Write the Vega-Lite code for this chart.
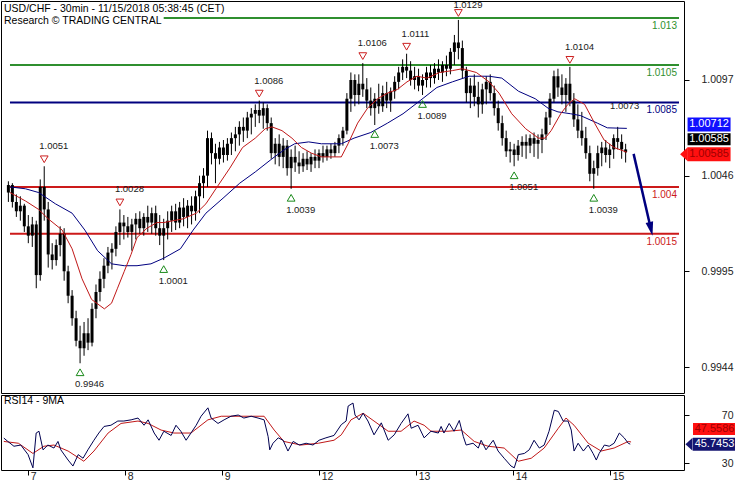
{
"$schema":"https://vega.github.io/schema/vega-lite/v6.json",
"padding":0,
"background":"white",
"spacing":0,
"config":{"view":{"stroke":"black","strokeWidth":1},"axis":{"domain":false,"grid":false,"labelFont":"Liberation Sans","tickColor":"black","labelColor":"#222","title":null},"text":{"font":"Liberation Sans"},"title":{"font":"Liberation Sans"}},
"datasets":{
"bars":[
{"h":-6,"o":1.0037,"hi":1.0043,"lo":1.0032,"c":1.0041},
{"h":-5,"o":1.0041,"hi":1.0042,"lo":1.0029,"c":1.0032},
{"h":-4,"o":1.0032,"hi":1.0036,"lo":1.0024,"c":1.0027},
{"h":-3,"o":1.0027,"hi":1.0035,"lo":1.0022,"c":1.0030},
{"h":-2,"o":1.0030,"hi":1.0031,"lo":1.0016,"c":1.0019},
{"h":-1,"o":1.0019,"hi":1.0025,"lo":1.0010,"c":1.0014},
{"h":0,"o":1.0014,"hi":1.0024,"lo":1.0008,"c":1.0020},
{"h":1,"o":1.0020,"hi":1.0022,"lo":0.9986,"c":0.9993},
{"h":2,"o":0.9993,"hi":1.0044,"lo":0.9990,"c":1.0040},
{"h":3,"o":1.0040,"hi":1.0051,"lo":1.0022,"c":1.0028},
{"h":4,"o":1.0028,"hi":1.0032,"lo":0.9997,"c":1.0004},
{"h":5,"o":1.0004,"hi":1.0010,"lo":0.9996,"c":1.0001},
{"h":6,"o":1.0001,"hi":1.0012,"lo":0.9998,"c":1.0009},
{"h":7,"o":1.0009,"hi":1.0019,"lo":1.0003,"c":1.0015},
{"h":8,"o":1.0015,"hi":1.0018,"lo":0.9990,"c":0.9995},
{"h":9,"o":0.9995,"hi":0.9998,"lo":0.9978,"c":0.9982},
{"h":10,"o":0.9982,"hi":0.9985,"lo":0.9966,"c":0.9970},
{"h":11,"o":0.9970,"hi":0.9974,"lo":0.9955,"c":0.9958},
{"h":12,"o":0.9958,"hi":0.9966,"lo":0.9946,"c":0.9954},
{"h":13,"o":0.9954,"hi":0.9968,"lo":0.9950,"c":0.9962},
{"h":14,"o":0.9962,"hi":0.9970,"lo":0.9953,"c":0.9957},
{"h":15,"o":0.9957,"hi":0.9978,"lo":0.9955,"c":0.9975},
{"h":16,"o":0.9975,"hi":0.9988,"lo":0.9970,"c":0.9984},
{"h":17,"o":0.9984,"hi":0.9995,"lo":0.9979,"c":0.9991},
{"h":18,"o":0.9991,"hi":1.0002,"lo":0.9986,"c":0.9998},
{"h":19,"o":0.9998,"hi":1.0008,"lo":0.9994,"c":1.0005},
{"h":20,"o":1.0005,"hi":1.0010,"lo":0.9996,"c":1.0007},
{"h":21,"o":1.0007,"hi":1.0019,"lo":1.0003,"c":1.0016},
{"h":22,"o":1.0016,"hi":1.0028,"lo":1.0009,"c":1.0021},
{"h":23,"o":1.0021,"hi":1.0025,"lo":1.0012,"c":1.0019},
{"h":24,"o":1.0019,"hi":1.0024,"lo":1.0013,"c":1.0016},
{"h":25,"o":1.0016,"hi":1.0023,"lo":1.0006,"c":1.0020},
{"h":26,"o":1.0020,"hi":1.0026,"lo":1.0012,"c":1.0023},
{"h":27,"o":1.0023,"hi":1.0027,"lo":1.0015,"c":1.0018},
{"h":28,"o":1.0018,"hi":1.0026,"lo":1.0014,"c":1.0024},
{"h":29,"o":1.0024,"hi":1.0030,"lo":1.0016,"c":1.0021},
{"h":30,"o":1.0021,"hi":1.0029,"lo":1.0015,"c":1.0026},
{"h":31,"o":1.0026,"hi":1.0030,"lo":1.0014,"c":1.0018},
{"h":32,"o":1.0018,"hi":1.0025,"lo":1.0009,"c":1.0014},
{"h":33,"o":1.0014,"hi":1.0023,"lo":1.0001,"c":1.0018},
{"h":34,"o":1.0018,"hi":1.0027,"lo":1.0012,"c":1.0022},
{"h":35,"o":1.0022,"hi":1.0030,"lo":1.0016,"c":1.0027},
{"h":36,"o":1.0027,"hi":1.0031,"lo":1.0017,"c":1.0021},
{"h":37,"o":1.0021,"hi":1.0032,"lo":1.0018,"c":1.0029},
{"h":38,"o":1.0029,"hi":1.0034,"lo":1.0019,"c":1.0024},
{"h":39,"o":1.0024,"hi":1.0033,"lo":1.0018,"c":1.0030},
{"h":40,"o":1.0030,"hi":1.0035,"lo":1.0020,"c":1.0027},
{"h":41,"o":1.0027,"hi":1.0038,"lo":1.0022,"c":1.0035},
{"h":42,"o":1.0035,"hi":1.0046,"lo":1.0026,"c":1.0042},
{"h":43,"o":1.0042,"hi":1.0050,"lo":1.0034,"c":1.0046},
{"h":44,"o":1.0046,"hi":1.0070,"lo":1.0040,"c":1.0066},
{"h":45,"o":1.0066,"hi":1.0069,"lo":1.0052,"c":1.0058},
{"h":46,"o":1.0058,"hi":1.0063,"lo":1.0042,"c":1.0055},
{"h":47,"o":1.0055,"hi":1.0064,"lo":1.0052,"c":1.0061},
{"h":48,"o":1.0061,"hi":1.0065,"lo":1.0053,"c":1.0057},
{"h":49,"o":1.0057,"hi":1.0066,"lo":1.0054,"c":1.0063},
{"h":50,"o":1.0063,"hi":1.0069,"lo":1.0057,"c":1.0066},
{"h":51,"o":1.0066,"hi":1.0072,"lo":1.0059,"c":1.0068},
{"h":52,"o":1.0068,"hi":1.0075,"lo":1.0062,"c":1.0072},
{"h":53,"o":1.0072,"hi":1.0077,"lo":1.0064,"c":1.0070},
{"h":54,"o":1.0070,"hi":1.0080,"lo":1.0066,"c":1.0077},
{"h":55,"o":1.0077,"hi":1.0082,"lo":1.0068,"c":1.0079},
{"h":56,"o":1.0079,"hi":1.0084,"lo":1.0072,"c":1.0081},
{"h":57,"o":1.0081,"hi":1.0086,"lo":1.0074,"c":1.0078},
{"h":58,"o":1.0078,"hi":1.0085,"lo":1.0071,"c":1.0082},
{"h":59,"o":1.0082,"hi":1.0084,"lo":1.0070,"c":1.0074},
{"h":60,"o":1.0074,"hi":1.0077,"lo":1.0055,"c":1.0058},
{"h":61,"o":1.0058,"hi":1.0066,"lo":1.0052,"c":1.0063},
{"h":62,"o":1.0063,"hi":1.0068,"lo":1.0051,"c":1.0056},
{"h":63,"o":1.0056,"hi":1.0066,"lo":1.0050,"c":1.0062},
{"h":64,"o":1.0062,"hi":1.0065,"lo":1.0046,"c":1.0050},
{"h":65,"o":1.0050,"hi":1.0060,"lo":1.0039,"c":1.0056},
{"h":66,"o":1.0056,"hi":1.0062,"lo":1.0048,"c":1.0053},
{"h":67,"o":1.0053,"hi":1.0059,"lo":1.0047,"c":1.0051},
{"h":68,"o":1.0051,"hi":1.0058,"lo":1.0048,"c":1.0055},
{"h":69,"o":1.0055,"hi":1.0059,"lo":1.0049,"c":1.0052},
{"h":70,"o":1.0052,"hi":1.0058,"lo":1.0048,"c":1.0056},
{"h":71,"o":1.0056,"hi":1.0060,"lo":1.0050,"c":1.0054},
{"h":72,"o":1.0054,"hi":1.0060,"lo":1.0050,"c":1.0058},
{"h":73,"o":1.0058,"hi":1.0062,"lo":1.0053,"c":1.0056},
{"h":74,"o":1.0056,"hi":1.0062,"lo":1.0054,"c":1.0060},
{"h":75,"o":1.0060,"hi":1.0063,"lo":1.0055,"c":1.0058},
{"h":76,"o":1.0058,"hi":1.0064,"lo":1.0056,"c":1.0062},
{"h":77,"o":1.0062,"hi":1.0068,"lo":1.0058,"c":1.0066},
{"h":78,"o":1.0066,"hi":1.0072,"lo":1.0062,"c":1.0070},
{"h":79,"o":1.0070,"hi":1.0090,"lo":1.0068,"c":1.0087},
{"h":80,"o":1.0087,"hi":1.0101,"lo":1.0080,"c":1.0097},
{"h":81,"o":1.0097,"hi":1.0100,"lo":1.0083,"c":1.0089},
{"h":82,"o":1.0089,"hi":1.0100,"lo":1.0084,"c":1.0095},
{"h":83,"o":1.0095,"hi":1.0106,"lo":1.0088,"c":1.0092},
{"h":84,"o":1.0092,"hi":1.0098,"lo":1.0082,"c":1.0086},
{"h":85,"o":1.0086,"hi":1.0093,"lo":1.0078,"c":1.0082},
{"h":86,"o":1.0082,"hi":1.0090,"lo":1.0073,"c":1.0087},
{"h":87,"o":1.0087,"hi":1.0095,"lo":1.0079,"c":1.0083},
{"h":88,"o":1.0083,"hi":1.0094,"lo":1.0080,"c":1.0090},
{"h":89,"o":1.0090,"hi":1.0096,"lo":1.0082,"c":1.0086},
{"h":90,"o":1.0086,"hi":1.0093,"lo":1.0080,"c":1.0091},
{"h":91,"o":1.0091,"hi":1.0099,"lo":1.0087,"c":1.0096},
{"h":92,"o":1.0096,"hi":1.0104,"lo":1.0092,"c":1.0101},
{"h":93,"o":1.0101,"hi":1.0108,"lo":1.0097,"c":1.0104},
{"h":94,"o":1.0104,"hi":1.0111,"lo":1.0098,"c":1.0102},
{"h":95,"o":1.0102,"hi":1.0107,"lo":1.0094,"c":1.0097},
{"h":96,"o":1.0097,"hi":1.0104,"lo":1.0092,"c":1.0099},
{"h":97,"o":1.0099,"hi":1.0103,"lo":1.0091,"c":1.0094},
{"h":98,"o":1.0094,"hi":1.0100,"lo":1.0089,"c":1.0097},
{"h":99,"o":1.0097,"hi":1.0104,"lo":1.0093,"c":1.0101},
{"h":100,"o":1.0101,"hi":1.0105,"lo":1.0093,"c":1.0098},
{"h":101,"o":1.0098,"hi":1.0106,"lo":1.0095,"c":1.0103},
{"h":102,"o":1.0103,"hi":1.0108,"lo":1.0097,"c":1.0101},
{"h":103,"o":1.0101,"hi":1.0107,"lo":1.0096,"c":1.0105},
{"h":104,"o":1.0105,"hi":1.0110,"lo":1.0099,"c":1.0103},
{"h":105,"o":1.0103,"hi":1.0114,"lo":1.0100,"c":1.0112},
{"h":106,"o":1.0112,"hi":1.0121,"lo":1.0105,"c":1.0117},
{"h":107,"o":1.0117,"hi":1.0129,"lo":1.0108,"c":1.0114},
{"h":108,"o":1.0114,"hi":1.0118,"lo":1.0098,"c":1.0102},
{"h":109,"o":1.0102,"hi":1.0104,"lo":1.0085,"c":1.0090},
{"h":110,"o":1.0090,"hi":1.0098,"lo":1.0082,"c":1.0094},
{"h":111,"o":1.0094,"hi":1.0100,"lo":1.0083,"c":1.0088},
{"h":112,"o":1.0088,"hi":1.0096,"lo":1.0077,"c":1.0084},
{"h":113,"o":1.0084,"hi":1.0095,"lo":1.0079,"c":1.0092},
{"h":114,"o":1.0092,"hi":1.0099,"lo":1.0084,"c":1.0096},
{"h":115,"o":1.0096,"hi":1.0100,"lo":1.0086,"c":1.0090},
{"h":116,"o":1.0090,"hi":1.0094,"lo":1.0078,"c":1.0082},
{"h":117,"o":1.0082,"hi":1.0086,"lo":1.0070,"c":1.0074},
{"h":118,"o":1.0074,"hi":1.0078,"lo":1.0062,"c":1.0066},
{"h":119,"o":1.0066,"hi":1.0070,"lo":1.0056,"c":1.0059},
{"h":120,"o":1.0059,"hi":1.0064,"lo":1.0053,"c":1.0060},
{"h":121,"o":1.0060,"hi":1.0063,"lo":1.0051,"c":1.0057},
{"h":122,"o":1.0057,"hi":1.0065,"lo":1.0054,"c":1.0062},
{"h":123,"o":1.0062,"hi":1.0067,"lo":1.0056,"c":1.0064},
{"h":124,"o":1.0064,"hi":1.0068,"lo":1.0055,"c":1.0062},
{"h":125,"o":1.0062,"hi":1.0068,"lo":1.0058,"c":1.0066},
{"h":126,"o":1.0066,"hi":1.0069,"lo":1.0056,"c":1.0063},
{"h":127,"o":1.0063,"hi":1.0068,"lo":1.0055,"c":1.0065},
{"h":128,"o":1.0065,"hi":1.0071,"lo":1.0058,"c":1.0068},
{"h":129,"o":1.0068,"hi":1.0080,"lo":1.0065,"c":1.0077},
{"h":130,"o":1.0077,"hi":1.0090,"lo":1.0073,"c":1.0087},
{"h":131,"o":1.0087,"hi":1.0102,"lo":1.0085,"c":1.0099},
{"h":132,"o":1.0099,"hi":1.0103,"lo":1.0088,"c":1.0093},
{"h":133,"o":1.0093,"hi":1.0100,"lo":1.0084,"c":1.0089},
{"h":134,"o":1.0089,"hi":1.0098,"lo":1.0080,"c":1.0095},
{"h":135,"o":1.0095,"hi":1.0104,"lo":1.0083,"c":1.0086},
{"h":136,"o":1.0086,"hi":1.0090,"lo":1.0072,"c":1.0076},
{"h":137,"o":1.0076,"hi":1.0084,"lo":1.0066,"c":1.0070},
{"h":138,"o":1.0070,"hi":1.0080,"lo":1.0062,"c":1.0066},
{"h":139,"o":1.0066,"hi":1.0072,"lo":1.0055,"c":1.0058},
{"h":140,"o":1.0058,"hi":1.0062,"lo":1.0043,"c":1.0047},
{"h":141,"o":1.0047,"hi":1.0054,"lo":1.0039,"c":1.0050},
{"h":142,"o":1.0050,"hi":1.0062,"lo":1.0046,"c":1.0058},
{"h":143,"o":1.0058,"hi":1.0064,"lo":1.0051,"c":1.0061},
{"h":144,"o":1.0061,"hi":1.0065,"lo":1.0053,"c":1.0057},
{"h":145,"o":1.0057,"hi":1.0063,"lo":1.0050,"c":1.0060},
{"h":146,"o":1.0060,"hi":1.0068,"lo":1.0055,"c":1.0066},
{"h":147,"o":1.0066,"hi":1.0072,"lo":1.0060,"c":1.0064},
{"h":148,"o":1.0064,"hi":1.0068,"lo":1.0055,"c":1.0060},
{"h":149,"o":1.0060,"hi":1.0063,"lo":1.0053,"c":1.00585}
],
"levels":[
{"level":1.013,"kind":"res","start":33},
{"level":1.0105,"kind":"res","start":-5.6},
{"level":1.0085,"kind":"piv","start":-5.6},
{"level":1.004,"kind":"sup","start":-5.6},
{"level":1.0015,"kind":"sup","start":-5.6}
],
"maFast":[
{"h":-5.6,"v":1.0037},{"h":-1.7,"v":1.00325},{"h":1.6,"v":1.0028},{"h":4.0,"v":1.0023},{"h":7.5,"v":1.0017},{"h":10.0,"v":1.0007},{"h":12.5,"v":0.9991},{"h":14.9,"v":0.9980},{"h":18.1,"v":0.9975},{"h":19.9,"v":0.9978},{"h":21.4,"v":0.9986},{"h":23.1,"v":0.9995},{"h":24.8,"v":1.0004},{"h":26.3,"v":1.0013},{"h":28.8,"v":1.0018},{"h":31.3,"v":1.0021},{"h":33.0,"v":1.0021},{"h":37.9,"v":1.0023},{"h":41.2,"v":1.0026},{"h":43.6,"v":1.0031},{"h":46.1,"v":1.0039},{"h":49.6,"v":1.0050},{"h":52.8,"v":1.0061},{"h":56.0,"v":1.0066},{"h":58.5,"v":1.0071},{"h":60.2,"v":1.0072},{"h":62.7,"v":1.0070},{"h":65.2,"v":1.0066},{"h":67.6,"v":1.0061},{"h":70.1,"v":1.0058},{"h":72.6,"v":1.0056},{"h":77.6,"v":1.0056},{"h":79.3,"v":1.0063},{"h":81.7,"v":1.0074},{"h":84.2,"v":1.0082},{"h":86.7,"v":1.0087},{"h":89.2,"v":1.0090},{"h":91.7,"v":1.0092},{"h":94.1,"v":1.0096},{"h":96.6,"v":1.0099},{"h":99.1,"v":1.0098},{"h":102.3,"v":1.0101},{"h":105.5,"v":1.0102},{"h":108.0,"v":1.0103},{"h":111.5,"v":1.0101},{"h":114.7,"v":1.0096},{"h":117.2,"v":1.0090},{"h":120.4,"v":1.0079},{"h":123.9,"v":1.0071},{"h":127.1,"v":1.0066},{"h":128.8,"v":1.0066},{"h":130.3,"v":1.0070},{"h":132.7,"v":1.0079},{"h":134.5,"v":1.0084},{"h":136.2,"v":1.0087},{"h":138.7,"v":1.0084},{"h":141.2,"v":1.0074},{"h":143.6,"v":1.0065},{"h":146.1,"v":1.0061},{"h":149.3,"v":1.00585}
],
"maSlow":[
{"h":-5.6,"v":1.0040},{"h":-1.7,"v":1.0039},{"h":1.6,"v":1.0037},{"h":5.8,"v":1.0031},{"h":10.0,"v":1.0026},{"h":13.2,"v":1.0017},{"h":16.4,"v":1.0006},{"h":19.9,"v":0.9999},{"h":23.1,"v":0.9998},{"h":26.3,"v":0.9998},{"h":29.8,"v":0.9999},{"h":33.0,"v":1.0002},{"h":37.2,"v":1.0007},{"h":40.4,"v":1.0017},{"h":43.6,"v":1.0026},{"h":47.9,"v":1.0034},{"h":52.1,"v":1.0042},{"h":56.0,"v":1.0048},{"h":60.2,"v":1.0055},{"h":63.4,"v":1.0060},{"h":65.9,"v":1.0063},{"h":69.4,"v":1.0064},{"h":72.6,"v":1.0063},{"h":77.6,"v":1.0063},{"h":80.8,"v":1.0066},{"h":85.0,"v":1.0069},{"h":89.2,"v":1.0074},{"h":93.1,"v":1.0079},{"h":97.4,"v":1.0086},{"h":101.6,"v":1.0093},{"h":105.5,"v":1.0096},{"h":109.7,"v":1.0099},{"h":114.7,"v":1.0099},{"h":117.9,"v":1.0098},{"h":122.1,"v":1.0091},{"h":126.3,"v":1.0087},{"h":129.5,"v":1.0082},{"h":132.0,"v":1.0080},{"h":135.2,"v":1.0079},{"h":137.7,"v":1.0078},{"h":141.9,"v":1.0074},{"h":144.4,"v":1.00715},{"h":149.3,"v":1.00712}
],
"extremes":[
{"h":3,"p":1.0051,"kind":"high"},{"h":22,"p":1.0028,"kind":"high"},{"h":57,"p":1.0086,"kind":"high"},{"h":83,"p":1.0106,"kind":"high"},{"h":94,"p":1.0111,"kind":"high"},{"h":107,"p":1.0129,"kind":"high"},{"h":135,"p":1.0104,"kind":"high"},
{"h":12,"p":0.9946,"kind":"low"},{"h":33,"p":1.0001,"kind":"low"},{"h":65,"p":1.0039,"kind":"low"},{"h":86,"p":1.0073,"kind":"low"},{"h":98,"p":1.0089,"kind":"low"},{"h":121,"p":1.0051,"kind":"low"},{"h":141,"p":1.0039,"kind":"low"}
],
"note":[{"h":145.1,"p":1.0083,"label":"1.0073"}],
"arrow":[{"h":151.0,"p":1.00576},{"h":155.0,"p":1.00208}],
"arrowHead":[{"h":155.35,"p":1.00176}],
"badges":[{"name":"slow","value":1.00712},{"name":"close","value":1.00585},{"name":"fast","value":1.00585}],
"rsiBadges":[{"name":"ma","value":47.5586},{"name":"rsi","value":45.7453}],
"rsi":[
{"h":-5.9,"v":50.8},{"h":-4.9,"v":48},{"h":-3.4,"v":44},{"h":-1.7,"v":45},{"h":0.1,"v":37},{"h":1.3,"v":26},{"h":2.1,"v":55},{"h":2.8,"v":56.5},{"h":3.8,"v":41},{"h":5.0,"v":45},{"h":6.5,"v":42.5},{"h":7.5,"v":48},{"h":8.2,"v":41},{"h":10.0,"v":32.5},{"h":11.2,"v":27.5},{"h":12.5,"v":37},{"h":13.7,"v":34},{"h":14.9,"v":41},{"h":16.4,"v":49},{"h":17.6,"v":55},{"h":18.9,"v":60.5},{"h":20.6,"v":61.5},{"h":22.3,"v":65},{"h":23.8,"v":65},{"h":25.6,"v":66},{"h":27.3,"v":67.5},{"h":28.8,"v":61.5},{"h":29.8,"v":66},{"h":31.3,"v":55},{"h":32.5,"v":49},{"h":33.7,"v":56.5},{"h":35.5,"v":53},{"h":36.7,"v":61.5},{"h":37.9,"v":56.5},{"h":39.2,"v":49},{"h":40.4,"v":55},{"h":41.7,"v":61.5},{"h":42.9,"v":69},{"h":44.6,"v":76},{"h":45.4,"v":67.5},{"h":47.1,"v":63},{"h":48.6,"v":66},{"h":50.3,"v":69},{"h":52.1,"v":70},{"h":53.5,"v":67.5},{"h":55.3,"v":69},{"h":57.0,"v":67.5},{"h":58.5,"v":66},{"h":59.5,"v":52},{"h":59.9,"v":41},{"h":60.7,"v":46.5},{"h":62.0,"v":51},{"h":63.2,"v":49},{"h":64.4,"v":40},{"h":65.7,"v":48},{"h":67.2,"v":45},{"h":68.9,"v":46.5},{"h":70.6,"v":45},{"h":72.1,"v":49},{"h":73.8,"v":51},{"h":75.8,"v":53},{"h":77.6,"v":62},{"h":78.8,"v":65},{"h":79.3,"v":77.5},{"h":80.5,"v":80},{"h":81.0,"v":70},{"h":82.0,"v":66},{"h":83.0,"v":71.5},{"h":84.2,"v":65},{"h":85.7,"v":53.5},{"h":87.5,"v":63.5},{"h":89.2,"v":49},{"h":90.7,"v":53.5},{"h":92.4,"v":63},{"h":94.1,"v":71},{"h":94.9,"v":59},{"h":96.6,"v":61.5},{"h":98.1,"v":51},{"h":99.8,"v":56.5},{"h":101.6,"v":55},{"h":102.3,"v":60.5},{"h":103.0,"v":55},{"h":104.3,"v":63},{"h":105.5,"v":56.5},{"h":106.8,"v":65.5},{"h":107.8,"v":52},{"h":108.5,"v":45},{"h":110.2,"v":46.5},{"h":111.5,"v":42.5},{"h":112.2,"v":49},{"h":113.4,"v":41},{"h":115.2,"v":49},{"h":116.4,"v":40},{"h":117.9,"v":34},{"h":119.6,"v":27.5},{"h":120.4,"v":26},{"h":121.4,"v":37},{"h":122.9,"v":38},{"h":124.1,"v":41},{"h":125.3,"v":49},{"h":126.6,"v":42.5},{"h":127.8,"v":45},{"h":129.0,"v":56.5},{"h":130.3,"v":74},{"h":131.3,"v":73},{"h":132.5,"v":65},{"h":133.7,"v":65},{"h":134.5,"v":57.5},{"h":135.2,"v":40},{"h":136.2,"v":46.5},{"h":137.5,"v":40},{"h":138.7,"v":45},{"h":139.9,"v":38},{"h":140.7,"v":32.5},{"h":141.4,"v":38},{"h":142.7,"v":45},{"h":143.9,"v":44},{"h":145.1,"v":46.5},{"h":146.4,"v":55},{"h":147.6,"v":51},{"h":148.6,"v":46.5},{"h":149.1,"v":45.75}
],
"rsiMa":[
{"h":-5.9,"v":48},{"h":-2.3,"v":46.5},{"h":1.3,"v":38},{"h":4.0,"v":44},{"h":6.5,"v":45},{"h":10.0,"v":40},{"h":13.9,"v":31.5},{"h":16.4,"v":40},{"h":19.9,"v":55},{"h":23.1,"v":63},{"h":27.3,"v":65},{"h":29.8,"v":63},{"h":33.0,"v":57.5},{"h":36.2,"v":55},{"h":40.4,"v":55},{"h":44.6,"v":66},{"h":47.9,"v":69},{"h":52.8,"v":69},{"h":58.5,"v":69},{"h":61.0,"v":57.5},{"h":63.4,"v":48},{"h":67.6,"v":45},{"h":71.9,"v":46.5},{"h":75.8,"v":49},{"h":77.6,"v":53.5},{"h":80.0,"v":66},{"h":83.0,"v":71.5},{"h":85.7,"v":65},{"h":89.2,"v":56.5},{"h":92.4,"v":56.5},{"h":95.6,"v":65},{"h":98.1,"v":61.5},{"h":99.8,"v":56.5},{"h":104.0,"v":56.5},{"h":107.3,"v":57.5},{"h":110.5,"v":48},{"h":113.9,"v":44},{"h":117.9,"v":42.5},{"h":121.4,"v":31.5},{"h":124.6,"v":34},{"h":127.8,"v":42.5},{"h":131.3,"v":59},{"h":133.2,"v":67.5},{"h":135.2,"v":61.5},{"h":138.7,"v":46.5},{"h":141.9,"v":40},{"h":145.1,"v":42.5},{"h":148.6,"v":48},{"h":149.3,"v":47.56}
]
},
"vconcat":[
{
"width":683,"height":392,
"title":{"text":"USD/CHF - 30min - 11/15/2018 05:38:45 (CET)","subtitle":"Research © TRADING CENTRAL","anchor":"start","frame":"group","orient":"top","offset":-25.5,"dx":3,"fontSize":10.5,"fontWeight":"normal","color":"black","subtitleFont":"Liberation Sans","subtitleFontSize":10.5,"subtitleColor":"black","subtitlePadding":2},
"layer":[
{"data":{"name":"levels"},"mark":{"type":"rule","strokeWidth":2,"clip":true},
 "encoding":{
  "x":{"field":"start","type":"quantitative","scale":{"domain":[-6.6,162.4],"nice":false,"zero":false},"axis":null},
  "x2":{"datum":162.4},
  "y":{"field":"level","type":"quantitative","scale":{"domain":[0.993015,1.01391],"nice":false,"zero":false},
       "axis":{"orient":"right","values":[1.0097,1.0046,0.9995,0.9944],"format":".4f","tickSize":5,"labelAlign":"right","labelBaseline":"middle","labelPadding":44,"labelFontSize":10.5,"labelColor":"#222"}},
  "color":{"field":"kind","type":"nominal","scale":{"domain":["res","piv","sup"],"range":["#2f8f2f","#00007f","#cc1a1a"]},"legend":null}}},
{"data":{"name":"levels"},"mark":{"type":"text","align":"right","baseline":"middle","dx":-2,"yOffset":8,"fontSize":10,"clip":true},
 "encoding":{"x":{"datum":162.4},"y":{"field":"level","type":"quantitative"},"text":{"field":"level","type":"quantitative","format":".4~f"},
  "color":{"field":"kind","type":"nominal","legend":null}}},
{"data":{"name":"bars"},"mark":{"type":"rule","color":"black","strokeWidth":1,"clip":true},
 "encoding":{"x":{"field":"h","type":"quantitative"},"y":{"field":"lo","type":"quantitative"},"y2":{"field":"hi"}}},
{"data":{"name":"bars"},"mark":{"type":"bar","color":"black","width":3,"clip":true},
 "encoding":{"x":{"field":"h","type":"quantitative"},"y":{"field":"o","type":"quantitative"},"y2":{"field":"c"}}},
{"data":{"name":"maSlow"},"mark":{"type":"line","color":"#000080","strokeWidth":1,"clip":true},
 "encoding":{"x":{"field":"h","type":"quantitative"},"y":{"field":"v","type":"quantitative"}}},
{"data":{"name":"maFast"},"mark":{"type":"line","color":"#c01818","strokeWidth":1,"clip":true},
 "encoding":{"x":{"field":"h","type":"quantitative"},"y":{"field":"v","type":"quantitative"}}},
{"data":{"name":"extremes"},"transform":[{"filter":"datum.kind==='high'"}],
 "mark":{"type":"point","shape":"triangle-down","filled":false,"stroke":"#cc2020","strokeWidth":1,"size":60,"yOffset":-7,"opacity":1,"clip":true},
 "encoding":{"x":{"field":"h","type":"quantitative"},"y":{"field":"p","type":"quantitative"}}},
{"data":{"name":"extremes"},"transform":[{"filter":"datum.kind==='high' && datum.p < 1.012"}],
 "mark":{"type":"text","align":"left","baseline":"middle","dx":-5,"yOffset":-20,"fontSize":9.5,"color":"#1a1a1a","clip":true},
 "encoding":{"x":{"field":"h","type":"quantitative"},"y":{"field":"p","type":"quantitative"},"text":{"field":"p","type":"quantitative","format":".4f"}}},
{"data":{"name":"extremes"},"transform":[{"filter":"datum.kind==='high' && datum.p >= 1.012"}],
 "mark":{"type":"text","align":"left","baseline":"middle","dx":-5,"yOffset":-15,"fontSize":9.5,"color":"#1a1a1a","clip":true},
 "encoding":{"x":{"field":"h","type":"quantitative"},"y":{"field":"p","type":"quantitative"},"text":{"field":"p","type":"quantitative","format":".4f"}}},
{"data":{"name":"extremes"},"transform":[{"filter":"datum.kind==='low'"}],
 "layer":[
  {"mark":{"type":"point","shape":"triangle-up","filled":false,"stroke":"#1a8a1a","strokeWidth":1,"size":60,"yOffset":9,"opacity":1,"clip":true}},
  {"mark":{"type":"text","align":"left","baseline":"middle","dx":-5,"yOffset":21,"fontSize":9.5,"color":"#1a1a1a","clip":true},"encoding":{"text":{"field":"p","type":"quantitative","format":".4f"}}}
 ],
 "encoding":{"x":{"field":"h","type":"quantitative"},"y":{"field":"p","type":"quantitative"}}},
{"data":{"name":"note"},"mark":{"type":"text","align":"left","baseline":"middle","fontSize":9.5,"color":"#1a1a1a","clip":true},
 "encoding":{"x":{"field":"h","type":"quantitative"},"y":{"field":"p","type":"quantitative"},"text":{"field":"label"}}},
{"data":{"name":"arrow"},"mark":{"type":"line","color":"#00007f","strokeWidth":2.5,"clip":true},
 "encoding":{"x":{"field":"h","type":"quantitative"},"y":{"field":"p","type":"quantitative"}}},
{"data":{"name":"arrowHead"},"mark":{"type":"point","shape":"M-0.55,-1L0.55,-1L0,1Z","filled":true,"color":"#00007f","size":196,"angle":347,"opacity":1,"clip":true},
 "encoding":{"x":{"field":"h","type":"quantitative"},"y":{"field":"p","type":"quantitative"}}},
{"data":{"name":"badges"},"transform":[{"filter":"datum.name==='slow'"}],
 "layer":[
  {"mark":{"type":"tick","orient":"horizontal","size":43,"thickness":14,"color":"#1010ff","opacity":1,"yOffset":-4}},
  {"mark":{"type":"text","color":"white","fontSize":11,"align":"center","baseline":"middle","yOffset":-4},"encoding":{"text":{"field":"value","type":"quantitative","format":".5f"}}}
 ],
 "encoding":{"x":{"datum":169.95},"y":{"field":"value","type":"quantitative"}}},
{"data":{"name":"badges"},"transform":[{"filter":"datum.name==='close'"}],
 "layer":[
  {"mark":{"type":"tick","orient":"horizontal","size":43,"thickness":12,"color":"black","opacity":1,"yOffset":-13}},
  {"mark":{"type":"text","color":"white","fontSize":11,"align":"center","baseline":"middle","yOffset":-13},"encoding":{"text":{"field":"value","type":"quantitative","format":".5f"}}}
 ],
 "encoding":{"x":{"datum":169.95},"y":{"field":"value","type":"quantitative"}}},
{"data":{"name":"badges"},"transform":[{"filter":"datum.name==='fast'"}],
 "layer":[
  {"mark":{"type":"tick","orient":"horizontal","size":43,"thickness":14,"color":"#ff1010","opacity":1,"yOffset":2}},
  {"mark":{"type":"point","shape":"M-0.55,0L0.55,-1L0.55,1Z","filled":true,"color":"#ff1010","size":196,"opacity":1,"yOffset":2},"encoding":{"x":{"datum":163.64}}},
  {"mark":{"type":"text","color":"#a00000","fontSize":11,"align":"center","baseline":"middle","yOffset":2},"encoding":{"text":{"field":"value","type":"quantitative","format":".5f"}}}
 ],
 "encoding":{"x":{"datum":169.95},"y":{"field":"value","type":"quantitative"}}}
]
},
{
"width":683,"height":75,
"title":{"text":"RSI14 - 9MA","anchor":"start","frame":"group","orient":"top","offset":-11,"dx":3,"fontSize":10.5,"fontWeight":"normal","color":"black"},
"layer":[
{"data":{"name":"rsiMa"},"mark":{"type":"line","color":"#c01818","strokeWidth":1,"clip":true},
 "encoding":{
  "x":{"field":"h","type":"quantitative","scale":{"domain":[-6.6,162.4],"nice":false,"zero":false},
       "axis":{"values":[0,24,48,72,96,120,144],"labelExpr":"['7','8','9','12','13','14','15'][datum.value/24]","tickSize":5,"labelAlign":"left","labelBaseline":"alphabetic","labelPadding":4,"labelOffset":2.5,"labelFontSize":10.5,"labelColor":"#222","labelFlush":false,"labelOverlap":false}},
  "y":{"field":"v","type":"quantitative","scale":{"domain":[24.2,86.7],"nice":false,"zero":false},
       "axis":{"orient":"right","values":[70,30],"tickSize":5,"labelAlign":"right","labelBaseline":"middle","labelPadding":44,"labelFontSize":10.5,"labelColor":"#222"}}}},
{"data":{"name":"rsi"},"mark":{"type":"line","color":"#000050","strokeWidth":1,"clip":true},
 "encoding":{"x":{"field":"h","type":"quantitative"},"y":{"field":"v","type":"quantitative"}}},
{"data":{"name":"rsiBadges"},"transform":[{"filter":"datum.name==='ma'"}],
 "layer":[
  {"mark":{"type":"tick","orient":"horizontal","size":43,"thickness":12,"color":"#ff1010","opacity":1,"yOffset":-13}},
  {"mark":{"type":"text","color":"#a00000","fontSize":11,"align":"center","baseline":"middle","yOffset":-13},"encoding":{"text":{"field":"value","type":"quantitative","format":".4f"}}}
 ],
 "encoding":{"x":{"datum":169.95},"y":{"field":"value","type":"quantitative"}}},
{"data":{"name":"rsiBadges"},"transform":[{"filter":"datum.name==='rsi'"}],
 "layer":[
  {"mark":{"type":"tick","orient":"horizontal","size":43,"thickness":13,"color":"#141470","opacity":1}},
  {"mark":{"type":"point","shape":"M-0.55,0L0.55,-1L0.55,1Z","filled":true,"color":"#141470","size":169,"opacity":1},"encoding":{"x":{"datum":163.64}}},
  {"mark":{"type":"text","color":"white","fontSize":11,"align":"center","baseline":"middle"},"encoding":{"text":{"field":"value","type":"quantitative","format":".4f"}}}
 ],
 "encoding":{"x":{"datum":169.95},"y":{"field":"value","type":"quantitative"}}}
]
}
]
}
